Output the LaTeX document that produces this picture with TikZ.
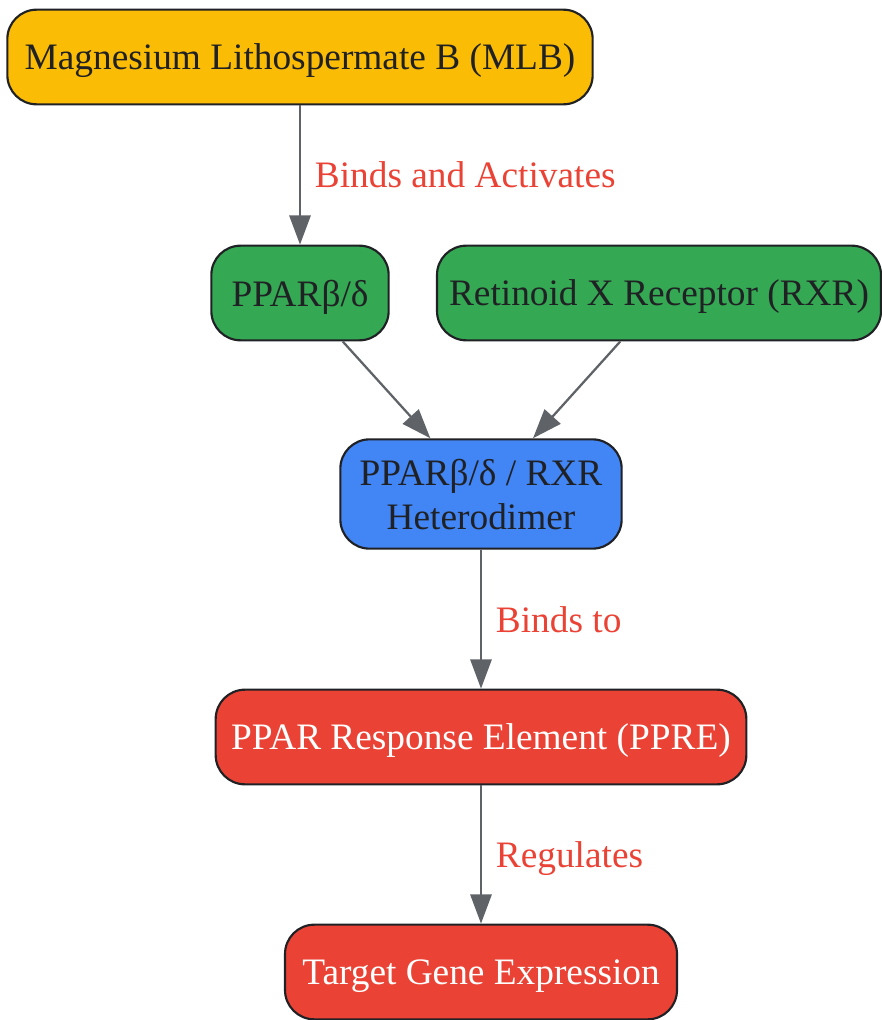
\documentclass[tikz,border=0pt]{standalone}
\usepackage{fontspec}
\setmainfont{Liberation Serif}
\usepackage{tikz}
\usetikzlibrary{positioning, calc, arrows.meta}
\definecolor{mlbyellow}{HTML}{FBBC05}
\definecolor{recgreen}{HTML}{34A853}
\definecolor{dimerblue}{HTML}{4285F4}
\definecolor{generred}{HTML}{EA4335}
\definecolor{inkdark}{HTML}{202124}
\definecolor{linegray}{HTML}{5F6368}
\tikzstyle{Arrow} = [
%gray connector with a filled head:
draw=linegray, line width=1.7pt,
-{Triangle[length=22pt, width=16pt]}
]

\begin{document}
\begin{tikzpicture}[x=0.75pt, y=-0.75pt,
				font=\fontsize{28}{33}\selectfont,
				box/.style = {rectangle, rounded corners=22pt, draw=inkdark, line width=1.6pt, text=inkdark, align=center, inner sep=0pt, text depth=-2pt, minimum height=71pt},
				compound/.style = {box, fill=mlbyellow},
				receptor/.style = {box, fill=recgreen},
				dimer/.style = {box, fill=dimerblue, minimum height=82pt},
				target/.style = {box, fill=generred, text=white},
				edgelabel/.style = {text=generred, text depth=0pt, xshift=7pt},
			]
			\useasboundingbox (0,0) rectangle (881,1020);

			\node[compound, minimum width=439pt](MLB) at (300,57){Magnesium Lithospermate B (MLB)};
			\node[receptor, minimum width=133pt](PPAR) at (300,293){PPARβ/δ};
			\node[receptor, minimum width=333pt](RXR) at (659,293){Retinoid X Receptor (RXR)};
			\node[dimer, minimum width=211pt](Het) at (481,494){PPARβ/δ / RXR\\Heterodimer};
			\node[target, minimum width=398pt](PPRE) at (481,737){PPAR Response Element (PPRE)};
			\node[target, minimum width=294pt](Gene) at (481,972){Target Gene Expression};

			\draw[Arrow](MLB)--node[midway, right, edgelabel] {Binds and Activates}(PPAR);
			\draw[Arrow]([xshift=32pt]PPAR.south)--([xshift=-38pt]Het.north);
			\draw[Arrow]([xshift=-29pt]RXR.south)--([xshift=39pt]Het.north);
			\draw[Arrow](Het)--node[midway, right, edgelabel] {Binds to}(PPRE);
			\draw[Arrow](PPRE)--node[midway, right, edgelabel] {Regulates}(Gene);

		\end{tikzpicture}
\end{document}
